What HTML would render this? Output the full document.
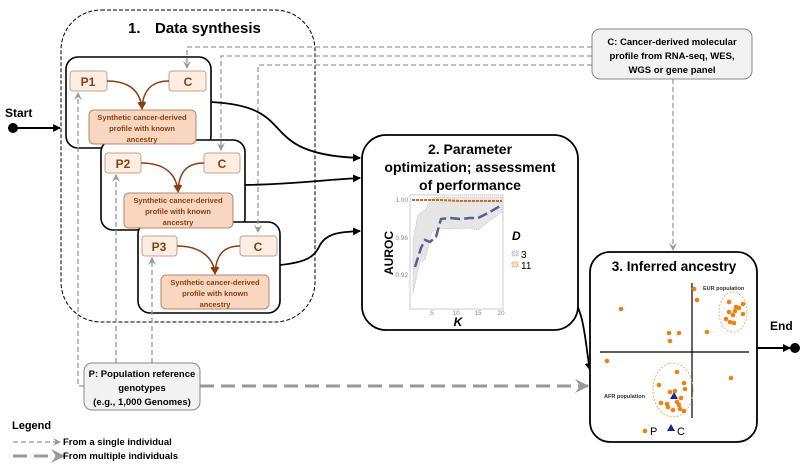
<!DOCTYPE html>
<html><head><meta charset="utf-8"><style>
body{margin:0;background:#fff}
svg{display:block;font-family:"Liberation Sans",sans-serif}
.b{font-weight:bold}
</style></head><body>
<svg width="803" height="468" viewBox="0 0 803 468" xmlns="http://www.w3.org/2000/svg">
<defs>
<marker id="ab" markerWidth="8" markerHeight="8" refX="7" refY="4" orient="auto" markerUnits="userSpaceOnUse"><path d="M0,0 L8,4 L0,8 z" fill="#000"/></marker>
<marker id="ag" markerWidth="8" markerHeight="8" refX="7" refY="4" orient="auto" markerUnits="userSpaceOnUse"><path d="M0,0 L8,4 L0,8 L3,4 z" fill="#999"/></marker>
<marker id="agb" markerWidth="14" markerHeight="14" refX="13" refY="7" orient="auto" markerUnits="userSpaceOnUse"><path d="M0,0 L14,7 L0,14 L5,7 z" fill="#999"/></marker>
<marker id="abr" markerWidth="8" markerHeight="8" refX="6" refY="4" orient="auto" markerUnits="userSpaceOnUse"><path d="M0,0 L8,4 L0,8 z" fill="#8B3E10"/></marker>
</defs>

<rect x="61" y="10" width="254" height="312" rx="40" fill="none" stroke="#000" stroke-width="1" stroke-dasharray="4,2"/>
<text x="128" y="33" font-size="15" class="b">1.</text>
<text x="155" y="33" font-size="15" class="b">Data synthesis</text>

<circle cx="13" cy="128" r="5" fill="#000"/>
<text x="5" y="117" font-size="12" class="b">Start</text>
<line x1="13" y1="128" x2="60" y2="128" stroke="#000" stroke-width="2" marker-end="url(#ab)"/>

<g fill="#fff" stroke="#000" stroke-width="1.6">
<rect x="66" y="57" width="145" height="91" rx="12"/>
<rect x="101" y="140" width="144" height="90" rx="12"/>
<rect x="138" y="222" width="142" height="91" rx="12"/>
</g>
<g fill="#fdeee3" stroke="#c8a088" stroke-width="1">
<rect x="70" y="71" width="37" height="20" rx="3"/>
<rect x="169" y="71" width="37" height="20" rx="3"/>
<rect x="105" y="153" width="36" height="20" rx="3"/>
<rect x="204" y="153" width="36" height="20" rx="3"/>
<rect x="142" y="236" width="35" height="20" rx="3"/>
<rect x="240" y="236" width="37" height="20" rx="3"/>
</g>
<g fill="#f8d6bf" stroke="#b08870" stroke-width="1">
<rect x="89" y="110" width="107" height="34" rx="5"/>
<rect x="124" y="193" width="109" height="35" rx="5"/>
<rect x="161" y="275" width="108" height="34" rx="5"/>
</g>
<g font-size="12" class="b" fill="#8B3E10" text-anchor="middle">
<text x="88" y="86">P1</text><text x="188" y="86">C</text>
<text x="123" y="168">P2</text><text x="222" y="168">C</text>
<text x="159" y="251">P3</text><text x="258" y="251">C</text>
</g>
<g font-size="7.5" class="b" fill="#8B3E10" text-anchor="middle">
<text x="142" y="120">Synthetic cancer-derived</text><text x="142" y="131">profile with known</text><text x="142" y="142">ancestry</text>
<text x="178" y="203">Synthetic cancer-derived</text><text x="178" y="214">profile with known</text><text x="178" y="225">ancestry</text>
<text x="215" y="285">Synthetic cancer-derived</text><text x="215" y="296">profile with known</text><text x="215" y="307">ancestry</text>
</g>
<g fill="none" stroke="#8B3E10" stroke-width="1.5">
<path d="M107,81 C130,81 140,92 142,108" marker-end="url(#abr)"/>
<path d="M169,81 C150,81 143,92 142,108" marker-end="url(#abr)"/>
<path d="M141,163 C165,163 176,174 178,191" marker-end="url(#abr)"/>
<path d="M204,163 C185,163 179,174 178,191" marker-end="url(#abr)"/>
<path d="M177,246 C200,246 213,257 215,273" marker-end="url(#abr)"/>
<path d="M240,246 C222,246 216,257 215,273" marker-end="url(#abr)"/>
</g>

<g fill="none" stroke="#999" stroke-width="1.3" stroke-dasharray="5,3">
<path d="M592,47 H187 V68" marker-end="url(#ag)"/>
<path d="M592,56 H221 V150" marker-end="url(#ag)"/>
<path d="M592,65 H258 V232" marker-end="url(#ag)"/>
<path d="M673,79 V250" marker-end="url(#ag)"/>
<path d="M84,386 H78 V93" marker-end="url(#ag)"/>
<path d="M116,363 V175" marker-end="url(#ag)"/>
<path d="M152,363 V258" marker-end="url(#ag)"/>
</g>
<path d="M200,386 H588" fill="none" stroke="#999" stroke-width="3" stroke-dasharray="14,7" marker-end="url(#agb)"/>

<g fill="none" stroke="#000" stroke-width="1.8">
<path d="M211,102 C270,105 270,125 290,140 C305,152 330,157 360,158" marker-end="url(#ab)"/>
<path d="M245,185 C300,184 320,180 360,178" marker-end="url(#ab)"/>
<path d="M280,265 C310,262 315,255 320,245 C327,233 340,232 360,231" marker-end="url(#ab)"/>
<path d="M568,295 C585,305 585,345 590,370" marker-end="url(#ab)"/>
</g>

<rect x="592" y="29" width="160" height="50" rx="8" fill="#f2f2f2" stroke="#888" stroke-width="1"/>
<g font-size="9.5" class="b" text-anchor="middle">
<text x="672" y="45">C: Cancer-derived molecular</text>
<text x="672" y="59">profile from RNA-seq, WES,</text>
<text x="672" y="73">WGS or gene panel</text>
</g>

<rect x="84" y="363" width="116" height="47" rx="8" fill="#f2f2f2" stroke="#888" stroke-width="1"/>
<g font-size="9.5" class="b" text-anchor="middle">
<text x="142" y="377">P: Population reference</text>
<text x="142" y="391">genotypes</text>
<text x="142" y="405">(e.g., 1,000 Genomes)</text>
</g>

<rect x="362" y="135" width="216" height="195" rx="24" fill="#fff" stroke="#000" stroke-width="1.8"/>
<g font-size="14" class="b" text-anchor="middle">
<text x="470" y="154">2. Parameter</text>
<text x="470" y="172">optimization; assessment</text>
<text x="470" y="190">of performance</text>
</g>
<rect x="410" y="195" width="93" height="114" fill="#fff" stroke="#ccc" stroke-width="1"/>
<path d="M413,240 L418,215 L425,210 L432,198 L440,197 L470,197 L502,197 L502,212 L488,222 L478,230 L468,228 L450,229 L440,228 L432,232 L425,260 L420,262 L413,293 Z" fill="#e6e6e6" stroke="#aaa" stroke-width="0.6" stroke-dasharray="1,1"/>
<path d="M415,267 L421,248 L425,240 L430,242 L436,237 L441,219 L450,218 L460,219 L470,218 L478,218 L488,213 L502,205" fill="none" stroke="#556190" stroke-width="2.5" stroke-dasharray="10,4"/>
<path d="M412,200 L440,200 L460,201 L502,201" fill="none" stroke="#d2691e" stroke-width="2" stroke-dasharray="3,1"/>
<g font-size="6.5" fill="#888" text-anchor="end">
<text x="408" y="202">1.00</text><text x="408" y="240">0.96</text><text x="408" y="277">0.92</text>
</g>
<g font-size="6.5" fill="#888" text-anchor="middle">
<text x="432" y="315">5</text><text x="456" y="315">10</text><text x="478" y="315">15</text><text x="501" y="315">20</text>
</g>
<text x="458" y="326" font-size="12" class="b" font-style="italic" text-anchor="middle">K</text>
<text transform="translate(393,253) rotate(-90)" font-size="12" class="b" text-anchor="middle">AUROC</text>
<text x="512" y="240" font-size="12" class="b" font-style="italic">D</text>
<rect x="512" y="251" width="6" height="5" fill="#dde" stroke="#889" stroke-width="0.6" stroke-dasharray="1,1"/>
<rect x="512" y="262" width="6" height="5" fill="#f5dcc0" stroke="#d2691e" stroke-width="0.6" stroke-dasharray="1,1"/>
<text x="521" y="258" font-size="10">3</text>
<text x="521" y="269" font-size="10">11</text>

<rect x="590" y="252" width="167" height="190" rx="20" fill="#fff" stroke="#000" stroke-width="1.8"/>
<text x="674" y="271" font-size="13.5" class="b" text-anchor="middle">3. Inferred ancestry</text>
<line x1="600" y1="352" x2="749" y2="352" stroke="#000" stroke-width="1.2"/>
<line x1="692" y1="283" x2="692" y2="418" stroke="#000" stroke-width="1.2"/>
<ellipse cx="733" cy="312" rx="14" ry="20" fill="none" stroke="#e8a060" stroke-width="0.8" stroke-dasharray="2,1.5"/>
<ellipse cx="673" cy="390" rx="20" ry="27" fill="none" stroke="#e8a060" stroke-width="0.8" stroke-dasharray="2,1.5"/>
<g fill="#f08010">
<circle cx="621" cy="309" r="2.3"/><circle cx="694" cy="289" r="2.3"/><circle cx="697" cy="300" r="2.3"/>
<circle cx="669" cy="333" r="2.3"/><circle cx="679" cy="333" r="2.3"/><circle cx="670" cy="341" r="2.3"/>
<circle cx="707" cy="332" r="2.3"/><circle cx="607" cy="361" r="2.3"/><circle cx="731" cy="378" r="2.3"/>
<circle cx="729" cy="302" r="2.3"/><circle cx="743" cy="304" r="2.3"/><circle cx="736" cy="307" r="2.3"/>
<circle cx="735" cy="311" r="2.3"/><circle cx="729" cy="312" r="2.3"/><circle cx="733" cy="315" r="2.3"/>
<circle cx="743" cy="314" r="2.3"/><circle cx="730" cy="322" r="2.3"/><circle cx="734" cy="323" r="2.3"/>
<circle cx="739" cy="308" r="2.3"/><circle cx="726" cy="319" r="2.3"/>
<circle cx="677" cy="372" r="2.3"/><circle cx="684" cy="383" r="2.3"/><circle cx="685" cy="389" r="2.3"/>
<circle cx="659" cy="385" r="2.3"/><circle cx="670" cy="392" r="2.3"/><circle cx="675" cy="391" r="2.3"/>
<circle cx="681" cy="398" r="2.3"/><circle cx="661" cy="403" r="2.3"/><circle cx="667" cy="404" r="2.3"/>
<circle cx="668" cy="407" r="2.3"/><circle cx="677" cy="402" r="2.3"/><circle cx="680" cy="409" r="2.3"/>
<circle cx="684" cy="411" r="2.3"/><circle cx="673" cy="410" r="2.3"/><circle cx="679" cy="405" r="2.3"/>
<circle cx="645" cy="431" r="2.3"/>
</g>
<path d="M674,392 L678,399 L670,399 Z" fill="#1a2a8a"/>
<path d="M671,424 L675,431 L667,431 Z" fill="#1a2a8a"/>
<g font-size="5.5" class="b" fill="#333">
<text x="703" y="290">EUR population</text>
<text x="604" y="398">AFR population</text>
</g>
<text x="650" y="435" font-size="11">P</text>
<text x="677" y="435" font-size="11">C</text>

<line x1="757" y1="348" x2="790" y2="348" stroke="#000" stroke-width="2" marker-end="url(#ab)"/>
<circle cx="795" cy="348" r="5" fill="#000"/>
<text x="770" y="330" font-size="12" class="b">End</text>

<text x="12" y="429" font-size="11" class="b">Legend</text>
<line x1="13" y1="442" x2="60" y2="442" stroke="#999" stroke-width="1.3" stroke-dasharray="5,3" marker-end="url(#ag)"/>
<line x1="13" y1="456" x2="64" y2="456" stroke="#999" stroke-width="3" stroke-dasharray="14,7" marker-end="url(#agb)"/>
<text x="63" y="445" font-size="9.5" class="b">From a single individual</text>
<text x="63" y="459" font-size="9.5" class="b">From multiple individuals</text>
</svg>
</body></html>
